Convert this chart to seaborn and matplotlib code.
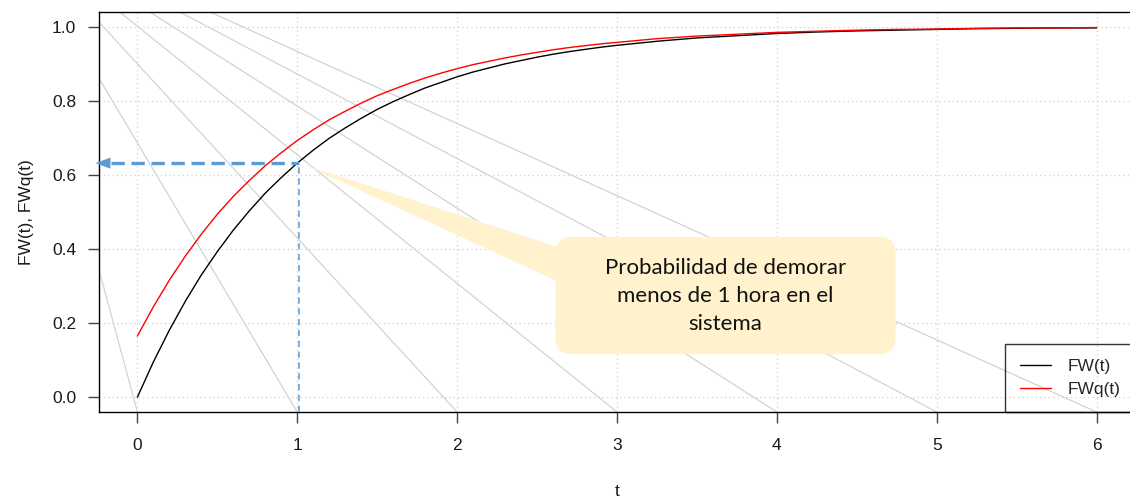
import matplotlib
matplotlib.use("Agg")
import matplotlib.pyplot as plt
from matplotlib.patches import FancyBboxPatch, Polygon
import pandas as pd
import seaborn as sns

# Waiting-time distribution functions read at these times (hours)
t = [0.0, 0.1, 0.2, 0.3, 0.4, 0.5, 0.6, 0.7, 0.8, 0.9,
     1.0, 1.1, 1.2, 1.3, 1.4, 1.5, 1.6, 1.7, 1.8, 1.9,
     2.0, 2.1, 2.2, 2.3, 2.4, 2.5, 2.6, 2.7, 2.8, 2.9,
     3.0, 3.25, 3.5, 3.75, 4.0, 4.25, 4.5, 4.75, 5.0, 5.25,
     5.5, 5.75, 6.0]

# FW(t): time in the system
fw = [0.000, 0.095, 0.181, 0.259, 0.330, 0.393, 0.451, 0.503, 0.551, 0.593,
      0.632, 0.667, 0.699, 0.727, 0.753, 0.777, 0.798, 0.817, 0.835, 0.850,
      0.865, 0.878, 0.889, 0.900, 0.909, 0.918, 0.926, 0.933, 0.939, 0.945,
      0.950, 0.961, 0.970, 0.976, 0.982, 0.986, 0.989, 0.991, 0.993, 0.995,
      0.996, 0.997, 0.997]

# FWq(t): time in the queue
fwq = [0.165, 0.244, 0.316, 0.381, 0.440, 0.494, 0.542, 0.585, 0.625, 0.660,
       0.693, 0.722, 0.749, 0.772, 0.794, 0.814, 0.831, 0.847, 0.862, 0.875,
       0.887, 0.898, 0.907, 0.916, 0.924, 0.931, 0.938, 0.944, 0.949, 0.954,
       0.958, 0.968, 0.975, 0.980, 0.985, 0.988, 0.991, 0.993, 0.994, 0.996,
       0.997, 0.997, 0.998]

series_names = ["FW(t)", "FWq(t)"]
series_colors = ["black", "red"]

x_ticks = [0, 1, 2, 3, 4, 5, 6]
y_ticks = [0.0, 0.2, 0.4, 0.6, 0.8, 1.0]
y_tick_labels = ["0.0", "0.2", "0.4", "0.6", "0.8", "1.0"]

# Background fan of guide lines: common hub and end points on the t axis
fan_hub_t = -0.83
fan_hub_p = 1.29
fan_end_t = [0, 1, 2, 3, 4, 5, 6]

# Highlighted reading: P(W < 1 hour)
marker_t = 1.01
marker_p = fw[10]

callout_text = "Probabilidad de demorar\nmenos de 1 hora en el\nsistema"

df = pd.DataFrame({
    "t": t + t,
    "p": fw + fwq,
    "serie": [series_names[0]] * len(t) + [series_names[1]] * len(t),
})

sns.set_theme(style="white")
plt.rcParams["font.family"] = ["Liberation Sans", "DejaVu Sans"]

fig = plt.figure(figsize=(11.3, 5.0), dpi=100)
ax = fig.add_axes([99 / 1130, 88 / 500, 1036 / 1130, 400 / 500])

xlim = (-0.24, 6.24)
ylim = (-0.04, 1.04)
ax.set_xlim(*xlim)
ax.set_ylim(*ylim)

ax.set_xticks(x_ticks)
ax.set_yticks(y_ticks)
ax.set_yticklabels(y_tick_labels)
ax.grid(True, color="#d0d0d0", linestyle=(0, (1, 2.5)), linewidth=0.9)
ax.set_axisbelow(True)

for end in fan_end_t:
    ax.plot([fan_hub_t, end], [fan_hub_p, ylim[0]], color="#d3d3d3",
            linewidth=0.9, zorder=1)

sns.lineplot(data=df, x="t", y="p", hue="serie", hue_order=series_names,
             palette=dict(zip(series_names, series_colors)), linewidth=1.0,
             ax=ax, zorder=3)

# dashed guides to the reading at t = 1
ax.plot([marker_t, marker_t], [ylim[0], marker_p], color="#6fa8dc",
        linewidth=1.3, linestyle=(0, (3.5, 2.5)), zorder=4)
head_tip = -0.262
head_base = -0.168
ax.plot([head_base, marker_t], [marker_p, marker_p], color="#5b9bd5",
        linewidth=2.4, linestyle=(0, (4, 2)), zorder=4)
ax.annotate("", xy=(head_tip, marker_p), xytext=(head_base, marker_p),
            arrowprops=dict(arrowstyle="-|>,head_length=1.08,head_width=0.4",
                            color="#5b9bd5", lw=0, shrinkA=0, shrinkB=0,
                            mutation_scale=10),
            annotation_clip=False, zorder=4)

# callout
box_x0, box_x1 = 2.614, 4.743
box_y0, box_y1 = 0.116, 0.433
ax.add_patch(Polygon([(1.055, 0.6255), (box_x0 + 0.05, 0.401), (box_x0 + 0.05, 0.306)],
                     closed=True, facecolor="#fff2cc", edgecolor="none", zorder=5))
ax.add_patch(FancyBboxPatch((box_x0, box_y0), box_x1 - box_x0, box_y1 - box_y0,
                            boxstyle="round,pad=0,rounding_size=0.106",
                            mutation_aspect=159.7 / 369.3,
                            facecolor="#fff2cc", edgecolor="none", zorder=5))
ax.text((box_x0 + box_x1) / 2, (box_y0 + box_y1) / 2 - 0.002, callout_text,
        ha="center", va="center", fontsize=16, color="#111111",
        family=["Lato", "DejaVu Sans"], linespacing=1.5, zorder=6)

for side in ["left", "right", "top", "bottom"]:
    ax.spines[side].set_visible(True)
    ax.spines[side].set_color("black")
    ax.spines[side].set_linewidth(1.0)

ax.tick_params(direction="out", length=8, width=1, color="#444444",
               labelsize=12.5, labelcolor="#1a1a1a")
ax.tick_params(axis="x", pad=10.5, bottom=True)
ax.tick_params(axis="y", pad=8.5, left=True)

ax.set_xlabel("t", fontsize=12.5, labelpad=22.5, color="#1a1a1a")
ax.set_ylabel("FW(t), FWq(t)", fontsize=12.5, labelpad=13, color="#1a1a1a")

handles, labels = ax.get_legend_handles_labels()
leg = ax.legend(handles, labels, loc="lower right", bbox_to_anchor=(1, 0),
                borderaxespad=0, frameon=True, fancybox=False,
                edgecolor="black", facecolor="none", framealpha=None,
                fontsize=12.5, handlelength=1.8, handletextpad=0.95,
                borderpad=0.85, labelspacing=0.47)
leg.get_frame().set_linewidth(1.0)
for line in leg.get_lines():
    line.set_linewidth(1.0)

fig.savefig("out.png", dpi=100)
